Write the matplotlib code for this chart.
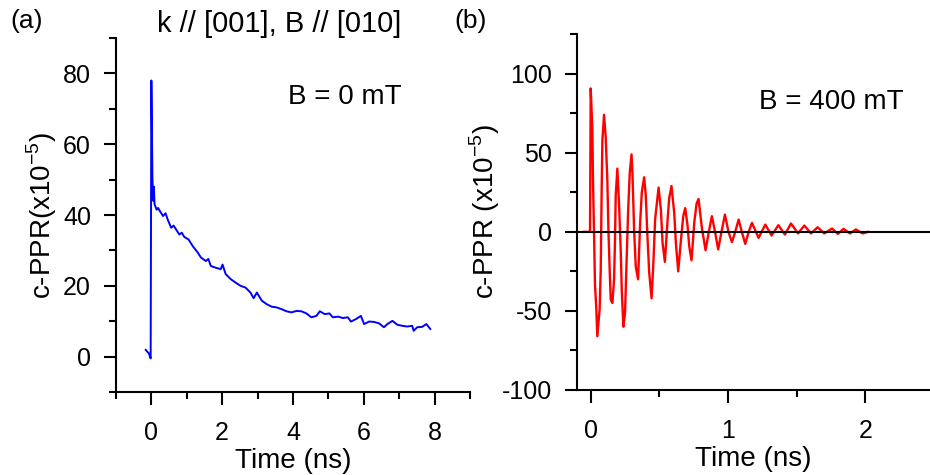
import matplotlib.pyplot as plt
from matplotlib.ticker import MultipleLocator

plt.rcParams['font.family'] = ['Liberation Sans', 'DejaVu Sans']
plt.rcParams['mathtext.fontset'] = 'custom'
plt.rcParams['mathtext.rm'] = 'Liberation Sans'
plt.rcParams['axes.unicode_minus'] = False

# (a) B = 0 mT
t_a = [-0.16, -0.07, -0.02, 0.0, 0.03, 0.05, 0.07, 0.09, 0.15, 0.19, 0.26, 0.33,
       0.40, 0.47, 0.56, 0.63, 0.70, 0.79, 0.86, 0.93, 1.05, 1.17, 1.31, 1.40,
       1.54, 1.61, 1.68, 1.82, 1.96, 2.01, 2.10, 2.24, 2.38, 2.52, 2.66, 2.80,
       2.89, 2.98, 3.12, 3.26, 3.40, 3.54, 3.68, 3.82, 3.96, 4.10, 4.24, 4.38,
       4.52, 4.66, 4.76, 4.90, 5.03, 5.13, 5.27, 5.41, 5.55, 5.64, 5.78, 5.92,
       6.01, 6.15, 6.29, 6.43, 6.57, 6.67, 6.81, 6.95, 7.09, 7.23, 7.37, 7.41,
       7.51, 7.65, 7.77, 7.88]
ppr_a = [1.9, 0.9, -0.5, 78.0, 50.5, 44.0, 48.0, 43.0, 41.5, 42.0, 40.8, 39.7,
         40.5, 38.5, 36.4, 37.0, 35.9, 34.5, 35.0, 33.8, 33.1, 31.2, 29.4, 28.0,
         27.0, 27.6, 25.6, 25.1, 24.7, 26.0, 23.3, 21.9, 20.9, 20.0, 19.5, 18.1,
         16.5, 18.1, 15.8, 14.8, 14.1, 13.9, 13.4, 12.8, 12.5, 12.9, 12.8, 12.2,
         11.1, 11.5, 12.8, 12.0, 12.2, 11.1, 11.3, 10.9, 11.1, 9.9, 10.6, 11.5,
         9.2, 9.9, 9.8, 9.4, 8.3, 9.2, 10.1, 9.0, 8.7, 8.5, 8.7, 7.3,
         8.3, 8.4, 9.2, 7.8]

# (b) B = 400 mT, values
t_b = [-0.049, -0.005, 0.0, 0.012, 0.017, 0.024, 0.031, 0.041, 0.048, 0.065,
       0.073, 0.080, 0.085, 0.097, 0.109, 0.121, 0.129, 0.138, 0.146, 0.158,
       0.170, 0.177, 0.182, 0.194, 0.207, 0.219, 0.226, 0.238, 0.250, 0.260,
       0.272, 0.284, 0.297, 0.304, 0.316, 0.328, 0.345, 0.360, 0.372, 0.389,
       0.401, 0.413, 0.426, 0.443, 0.455, 0.469, 0.494, 0.511, 0.523, 0.540,
       0.560, 0.571, 0.588, 0.608, 0.620, 0.637, 0.657, 0.674, 0.688, 0.705,
       0.717, 0.734, 0.754, 0.771, 0.785, 0.810, 0.836, 0.860, 0.882, 0.905,
       0.928, 0.952, 0.977, 1.003, 1.028, 1.052, 1.077, 1.100, 1.125, 1.150,
       1.174, 1.222, 1.271, 1.317, 1.366, 1.414, 1.458, 1.509, 1.555, 1.604,
       1.652, 1.70, 1.757, 1.80, 1.84, 1.888, 1.93, 1.98, 2.02]
ppr_b = [0.0, 0.0, 90.7, 65.0, 31.0, 0.0, -33.0, -49.0, -66.0, -49.0,
         -24.0, 28.0, 58.0, 74.0, 60.0, 33.0, 1.0, -24.0, -43.0, -45.0,
         -30.0, -5.0, 23.0, 40.0, 16.0, -13.0, -37.0, -60.0, -51.0, -22.0,
         12.0, 37.0, 49.0, 37.0, 1.0, -22.0, -30.0, 6.0, 25.0, 34.5,
         23.0, -3.0, -26.0, -42.0, -22.0, 8.0, 28.0, 14.0, -7.0, -19.0,
         8.0, 21.0, 29.0, 12.0, -7.0, -25.0, -5.0, 10.0, 15.0, 4.0,
         -9.0, -18.0, 6.0, 18.0, 20.8, 2.0, -11.6, 0.0, 9.9, 0.0,
         -11.1, 0.0, 10.9, 0.0, -6.5, 0.0, 7.8, 0.0, -7.6, 0.0,
         5.7, -3.8, 4.6, -2.3, 4.2, -1.7, 5.3, -1.0, 4.0, -1.0,
         2.9, -1.0, 2.1, -1.3, 1.9, -1.0, 1.5, -1.0, 0.0]

fig = plt.figure(figsize=(9.3, 4.75), dpi=100)
ax1 = fig.add_axes([0.1247, 0.1747, 0.3806, 0.7453])
ax2 = fig.add_axes([0.6204, 0.179, 0.3796, 0.749])

for ax in (ax1, ax2):
    for s in ('top', 'right'):
        ax.spines[s].set_visible(False)
    for s in ('left', 'bottom'):
        ax.spines[s].set_linewidth(1.5)
    ax.tick_params(which='major', length=9, width=1.5, labelsize=18)
    ax.tick_params(which='minor', length=5, width=1.5)
    ax.tick_params(axis='x', which='major', pad=12)
    ax.tick_params(axis='y', which='major', pad=9)

ax1.plot(t_a, ppr_a, color='#0000FF', linewidth=1.4)
ax1.set_xlim(-1, 9)
ax1.set_ylim(-10, 90)
ax1.xaxis.set_major_locator(MultipleLocator(2))
ax1.xaxis.set_minor_locator(MultipleLocator(1))
ax1.yaxis.set_major_locator(MultipleLocator(20))
ax1.yaxis.set_minor_locator(MultipleLocator(10))
ax1.set_xlabel('Time (ns)', fontsize=20, labelpad=2)
ax1.set_ylabel(r'c-PPR(x10$^{-5}$)', fontsize=20, labelpad=3)
ax1.text(0.647, 0.833, 'B = 0 mT', transform=ax1.transAxes, fontsize=20,
         ha='center', va='center')

ax2.plot(t_b, ppr_b, color='#FF0000', linewidth=1.7)
ax2.axhline(0, color='black', linewidth=1.5)
ax2.set_xlim(-0.1, 2.47)
ax2.set_ylim(-100, 125)
ax2.xaxis.set_major_locator(MultipleLocator(1))
ax2.xaxis.set_minor_locator(MultipleLocator(0.5))
ax2.yaxis.set_major_locator(MultipleLocator(50))
ax2.yaxis.set_minor_locator(MultipleLocator(25))
ax2.set_xlabel('Time (ns)', fontsize=20, labelpad=2)
ax2.set_ylabel(r'c-PPR (x10$^{-5}$)', fontsize=20, labelpad=0)
ax2.text(0.72, 0.809, 'B = 400 mT', transform=ax2.transAxes, fontsize=20,
         ha='center', va='center')

fig.text(0.011, 0.955, '(a)', fontsize=19, ha='left', va='center')
fig.text(0.489, 0.955, '(b)', fontsize=19, ha='left', va='center')
fig.text(0.30, 0.95, 'k // [001], B // [010]', fontsize=21, ha='center', va='center')

fig.savefig('out.png', dpi=100)
